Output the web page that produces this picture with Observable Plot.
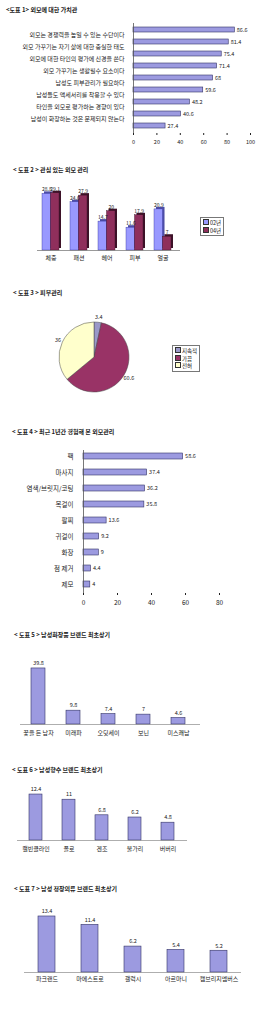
<!DOCTYPE html>
<html><head><meta charset="utf-8">
<script src="https://cdn.jsdelivr.net/npm/d3@7"></script>
<script src="https://cdn.jsdelivr.net/npm/@observablehq/plot@0.6"></script>
<style>
body{margin:0;background:#fff;font-family:"Noto Sans CJK KR","Noto Sans",sans-serif;color:#222}
#page{position:relative;width:260px;height:1013px;overflow:hidden;background:#fff}
.abs{position:absolute;left:0}
.title{position:absolute;font-size:6px;font-weight:bold;white-space:nowrap;line-height:8px}
.legend{position:absolute;border:0.8px solid #777;background:#fff;font-size:5.5px;line-height:7px;padding:1px 2px;white-space:nowrap}
.sw{display:inline-block;width:4px;height:4px;border:0.5px solid #333;margin-right:1px;vertical-align:-0.5px}
</style></head>
<body><div id="page"></div>
<script>
// ---------- DATA ----------
const c1Labels = ["외모는 경쟁력을 높일 수 있는 수단이다","외모 가꾸기는 자기 삶에 대한 충실한 태도","외모에 대한 타인의 평가에 신경을 쓴다","외모 가꾸기는 생활필수 요소이다","남성도 피부관리가 필요하다","남성들도 액세서리를 착용할 수 있다","타인을 외모로 평가하는 경향이 있다","남성이 화장하는 것은 문제되지 않는다"];
const c1Values = [86.6, 81.4, 75.4, 71.4, 68, 59.6, 48.2, 40.6, 27.4];
const c1Ticks = [0, 20, 40, 60, 80, 100];

const c2Cats = ["체중","패션","헤어","피부","얼굴"];
const c2Years = ["02년","04년"];
const c2V02 = [28.8, 24.6, 14.7, 11.6, 20.9];
const c2V04 = [29.1, 27.9, 20, 17.9, 7];

const c3Cats = ["지속적","가끔","전혀"];
const c3Values = [3.4, 60.6, 36];

const c4Cats = ["팩","마사지","염색/브릿지/코팅","목걸이","팔찌","귀걸이","화장","점 제거","제모"];
const c4Values = [58.6, 37.4, 36.2, 35.8, 13.6, 9.2, 9, 4.4, 4];
const c4Ticks = [0, 20, 40, 60, 80];

const c5Cats = ["꽃을 든 남자","미래파","오딧세이","보닌","미스쾌남"];
const c5Values = [39.8, 9.8, 7.4, 7, 4.6];

const c6Cats = ["캘빈클라인","폴로","겐조","불가리","버버리"];
const c6Values = [12.4, 11, 6.8, 6.2, 4.8];

const c7Cats = ["파크랜드","마에스트로","갤럭시","아르마니","캠브리지멤버스"];
const c7Values = [13.4, 11.4, 6.2, 5.4, 5.2];

const titles = ["<도표 1> 외모에 대한 가치관","< 도표 2 > 관심 있는 외모 관리","< 도표 3 > 피부관리","< 도표 4 > 최근 1년간 경험해 본 외모관리","< 도표 5 > 남성화장품 브랜드 최초상기","< 도표 6 > 남성향수 브랜드 최초상기","< 도표 7 > 남성 정장의류 브랜드 최초상기"];

// ---------- STYLE ----------
const FONT = '"Noto Sans CJK KR","Noto Sans",sans-serif';
const BAR = "#9c9ae0", BARSTROKE = "#333366";
const C02 = "#9999ff", C02S = "#4d4da6", C04 = "#8f2f5c", C04S = "#3d1228";
const PIE = ["#9a98c8", "#993366", "#ffffcc"];
const page = document.getElementById("page");
const baseStyle = {fontFamily: FONT, fontSize: "5.5px", color: "#222", background: "transparent", overflow: "visible"};

function place(node, top, left = 0) {
  const d = document.createElement("div");
  d.className = "abs"; d.style.top = top + "px"; d.style.left = left + "px";
  d.appendChild(node); page.appendChild(d);
}
function title(text, top, left) {
  const d = document.createElement("div");
  d.className = "title"; d.style.top = top + "px"; d.style.left = left + "px";
  d.textContent = text; page.appendChild(d);
}
function legend(items, colors, top, left) {
  const d = document.createElement("div");
  d.className = "legend"; d.style.top = top + "px"; d.style.left = left + "px";
  d.innerHTML = items.map((t, i) => `<div><span class="sw" style="background:${colors[i]}"></span>${t}</div>`).join("");
  page.appendChild(d);
}

// ---------- TITLES ----------
const titlePos = [[6,6],[166,13],[289,13],[428,12],[631,14],[766,12],[885,14]];
titles.forEach((t, i) => title(t, titlePos[i][0], titlePos[i][1]));

// ---------- CHART 1 ----------
const c1Index = d3.range(c1Values.length);
place(Plot.plot({
  width: 260, height: 150, marginLeft: 133, marginRight: 10, marginTop: 23, marginBottom: 17,
  style: baseStyle,
  x: {domain: [0, 100], ticks: c1Ticks, tickSize: 2, tickPadding: 5, label: null},
  y: {type: "band", domain: c1Index, range: [18.1, 136.9], padding: 0.6, axis: null},
  marks: [
    Plot.barX(c1Index, {x: i => c1Values[i], y: i => i, fill: BAR, stroke: BARSTROKE, strokeWidth: 0.6}),
    Plot.text(c1Index, {x: i => c1Values[i], y: i => i, text: i => String(c1Values[i]), dx: 2, textAnchor: "start", fontSize: 5.5}),
    Plot.ruleX([0], {stroke: "#555", strokeWidth: 0.8})
  ]
}), 0);
place(Plot.plot({
  width: 260, height: 150, marginLeft: 0, marginRight: 136, marginTop: 0, marginBottom: 0,
  style: baseStyle,
  x: {domain: [0, 1], axis: null},
  y: {type: "point", domain: c1Labels, range: [27, 127], axis: null},
  marks: [Plot.text(c1Labels, {y: d => d, frameAnchor: "right", textAnchor: "end", fontSize: 6, fill: "#222"})]
}), 0);

// ---------- CHART 2 ----------
const c2Data = c2Cats.flatMap((c, i) => [
  {cat: c, year: c2Years[0], v: c2V02[i]},
  {cat: c, year: c2Years[1], v: c2V04[i]}
]);
const d02 = c2Data.filter(d => d.year === c2Years[0]);
const d04 = c2Data.filter(d => d.year === c2Years[1]);
place(Plot.plot({
  width: 260, height: 90, marginLeft: 37, marginRight: 80, marginTop: 11, marginBottom: 20,
  style: {...baseStyle, fontSize: "6px"},
  x: {domain: c2Cats, range: [30.2, 182.8], padding: 0.4, tickSize: 0, tickPadding: 5, label: null},
  y: {domain: [0, 30], axis: null},
  marks: [
    Plot.barY(d02, {x: "cat", y: "v", insetRight: 8.48, fill: C02S, dx: 2, dy: -2}),
    Plot.barY(d04, {x: "cat", y: "v", insetLeft: 8.48, fill: C04S, dx: 2, dy: -2}),
    Plot.barY(d02, {x: "cat", y: "v", insetRight: 8.48, fill: C02, stroke: "#333399", strokeWidth: 0.4}),
    Plot.barY(d04, {x: "cat", y: "v", insetLeft: 8.48, fill: C04, stroke: "#3d1228", strokeWidth: 0.4}),
    Plot.ruleY([0], {stroke: "#555", strokeWidth: 0.6}),
    Plot.text(d02, {x: "cat", y: "v", text: d => String(d.v), dx: -4.2, dy: -4, fontSize: 5}),
    Plot.text(d04, {x: "cat", y: "v", text: d => String(d.v), dx: 4.2, dy: -4, fontSize: 5})
  ]
}), 180);
legend(c2Years, [C02, C04], 217, 200);

// ---------- CHART 3 (pie) ----------
const c3Arcs = d3.pie().sort(null).value(d => d)(c3Values);
const c3Lab = c3Arcs.map((a, i) => {
  const m = (a.startAngle + a.endAngle) / 2;
  return {x: 1.15 * Math.sin(m), y: -1.15 * Math.cos(m), t: String(c3Values[i])};
});
place(Plot.plot({
  width: 260, height: 105, marginLeft: 59, marginRight: 131, marginTop: 17, marginBottom: 18,
  style: baseStyle,
  x: {domain: [-1, 1], axis: null},
  y: {domain: [-1, 1], reverse: true, axis: null},
  marks: [
    (index, scales) => {
      const cx = scales.x(0), cy = scales.y(0), r = Math.abs(scales.x(1) - scales.x(0));
      const g = d3.create("svg:g").attr("transform", `translate(${cx},${cy})`);
      const arc = d3.arc().innerRadius(0).outerRadius(r);
      g.selectAll("path").data(c3Arcs).join("path")
        .attr("d", arc).attr("fill", (d, i) => PIE[i]).attr("stroke", "#444").attr("stroke-width", 0.5);
      return g.node();
    },
    Plot.text(c3Lab, {x: "x", y: "y", text: "t", fontSize: 5.5})
  ]
}), 305);
legend(c3Cats, PIE, 345, 172);

// ---------- CHART 4 ----------
place(Plot.plot({
  width: 260, height: 170, marginLeft: 83, marginRight: 41, marginTop: 10, marginBottom: 17,
  style: {...baseStyle, fontSize: "6.5px"},
  x: {domain: [0, 80], ticks: c4Ticks, tickSize: 2, tickPadding: 5, label: null},
  y: {type: "band", domain: c4Cats, range: [3.1, 157.9], padding: 0.6, tickSize: 0, tickPadding: 10, label: null},
  marks: [
    Plot.barX(c4Cats, {x: (d, i) => c4Values[i], y: d => d, fill: BAR, stroke: BARSTROKE, strokeWidth: 0.6}),
    Plot.text(c4Cats, {x: (d, i) => c4Values[i], y: d => d, text: (d, i) => String(c4Values[i]), dx: 2, textAnchor: "start", fontSize: 5.5}),
    Plot.ruleX([0], {stroke: "#555", strokeWidth: 0.8})
  ]
}), 440);

// ---------- CHARTS 5-7 ----------
function columns(cats, vals, o) {
  return Plot.plot({
    width: 260, height: o.h, marginLeft: o.ml, marginRight: o.mr, marginTop: 2, marginBottom: o.mb,
    style: {...baseStyle, fontSize: "6px"},
    x: {domain: cats, range: o.xr, padding: 0.6, tickSize: 0, tickPadding: o.tp, label: null},
    y: {domain: o.yd, range: o.yr, axis: null},
    marks: [
      Plot.barY(cats, {x: d => d, y: (d, i) => vals[i], fill: BAR, stroke: BARSTROKE, strokeWidth: 0.6}),
      Plot.ruleY([0], {stroke: "#777", strokeWidth: 0.6}),
      Plot.text(cats, {x: d => d, y: (d, i) => vals[i], text: (d, i) => String(vals[i]), dy: -5, fontSize: 5.5})
    ]
  });
}
place(columns(c5Cats, c5Values, {h: 100, ml: 20, mr: 60, mb: 21, xr: [10, 206], tp: 6, yd: [0, 50], yr: [79, 8.6]}), 645);
place(columns(c6Cats, c6Values, {h: 90, ml: 17, mr: 73, mb: 25, xr: [6.8, 197.2], tp: 6, yd: [0, 15], yr: [65, 9.4]}), 775);
place(columns(c7Cats, c7Values, {h: 100, ml: 24, mr: 19, mb: 23, xr: [11.4, 253.6], tp: 4, yd: [0, 15], yr: [77, 14.3]}), 895);
</script></body></html>
